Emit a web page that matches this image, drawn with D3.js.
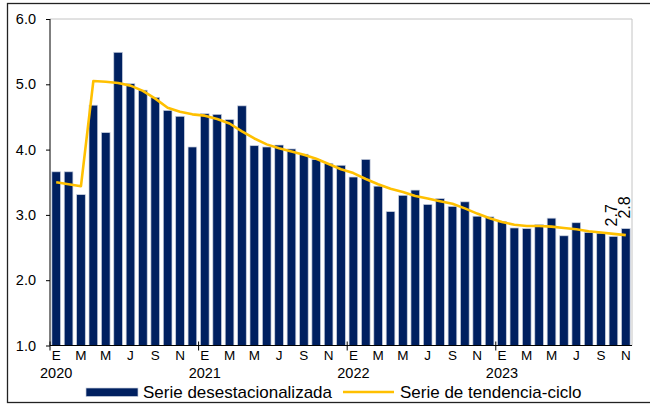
<!DOCTYPE html>
<html>
<head>
<meta charset="utf-8">
<script src="https://cdn.jsdelivr.net/npm/d3@7"></script>
<style>
  body { margin: 0; background: #fff; }
  svg { display: block; font-family: "Liberation Sans", Arial, sans-serif; }
</style>
</head>
<body>
<svg id="chart" width="650" height="405"></svg>
<script>
// ---- data ----
const years = ["2020", "2021", "2022", "2023"];
const monthLetters = ["E", "F", "M", "A", "M", "J", "J", "A", "S", "O", "N", "D"];
const desestacionalizada = [
  3.66, 3.66, 3.31, 4.68, 4.26, 5.49, 5.01, 4.91, 4.80, 4.60, 4.51, 4.04,
  4.55, 4.54, 4.46, 4.67, 4.06, 4.04, 4.07, 4.01, 3.93, 3.85, 3.79, 3.76,
  3.58, 3.85, 3.44, 3.05, 3.30, 3.38, 3.16, 3.25, 3.13, 3.20, 2.98, 2.97,
  2.90, 2.80, 2.79, 2.85, 2.95, 2.68, 2.88, 2.73, 2.72, 2.67, 2.79
];
const tendenciaCiclo = [
  3.50, 3.47, 3.44, 5.05, 5.04, 5.02, 4.98, 4.90, 4.78, 4.64, 4.58, 4.54,
  4.52, 4.47, 4.40, 4.28, 4.17, 4.08, 4.02, 3.97, 3.92, 3.86, 3.78, 3.70,
  3.64, 3.55, 3.47, 3.40, 3.35, 3.29, 3.25, 3.21, 3.17, 3.10, 3.02, 2.95,
  2.89, 2.85, 2.83, 2.83, 2.82, 2.80, 2.78, 2.75, 2.73, 2.71, 2.69
];
const yTicks = [1, 2, 3, 4, 5, 6];
const labelledIdx = [45, 46];
const seriesNames = ["Serie desestacionalizada", "Serie de tendencia-ciclo"];

// categories: one per month
const categories = desestacionalizada.map((d, i) => ({
  i,
  month: monthLetters[i % 12],
  year: years[Math.floor(i / 12)]
}));

// ---- layout ----
const svg = d3.select("#chart");
const pLeft = 50, pRight = 632, pTop = 19, pBottom = 345.5;

const x = d3.scaleBand().domain(categories.map(c => c.i)).range([pLeft, pRight])
  .paddingInner(0.3).paddingOuter(0.15);
const y = d3.scaleLinear().domain([1, 6]).range([pBottom, pTop]);
const step = x.step();
const cx = i => x(i) + x.bandwidth() / 2;
const boundary = i => x(i) - (step - x.bandwidth()) / 2;

// outer frame
svg.append("rect").attr("x", 7.5).attr("y", 3.5).attr("width", 648).attr("height", 399)
  .attr("fill", "none").attr("stroke", "#222").attr("stroke-width", 1.3);

// plot area border (top/right)
svg.append("line").attr("x1", pLeft).attr("x2", pRight).attr("y1", pTop).attr("y2", pTop)
  .attr("stroke", "#c4c4c4").attr("stroke-width", 1);
svg.append("line").attr("x1", pRight).attr("x2", pRight).attr("y1", pTop).attr("y2", pBottom)
  .attr("stroke", "#c4c4c4").attr("stroke-width", 1);

// bars
svg.append("g").selectAll("rect").data(categories).join("rect")
  .attr("x", d => x(d.i))
  .attr("y", d => y(desestacionalizada[d.i]))
  .attr("width", x.bandwidth())
  .attr("height", d => y(1) - y(desestacionalizada[d.i]))
  .attr("fill", "#002060")
  .attr("stroke", "#c9d0de")
  .attr("stroke-width", 0.7);

// trend line
const line = d3.line().x((d, i) => cx(i)).y(d => y(d));
svg.append("path").datum(tendenciaCiclo)
  .attr("d", line)
  .attr("fill", "none")
  .attr("stroke", "#FFC000")
  .attr("stroke-width", 2.6)
  .attr("stroke-linejoin", "round");

// y axis
const yAxis = svg.append("g").attr("transform", `translate(${pLeft},0)`)
  .call(d3.axisLeft(y).tickValues(yTicks).tickFormat(d3.format(".1f")).tickSize(4).tickPadding(10));
yAxis.select(".domain").attr("stroke", "#000").attr("d", `M0,${pTop}V${pBottom}`);
yAxis.selectAll(".tick line").attr("stroke", "#000");
yAxis.selectAll(".tick text").attr("font-size", 14.5).attr("fill", "#000")
  .attr("font-family", "'Liberation Sans', Arial, sans-serif");

// x axis baseline
svg.append("line").attr("x1", pLeft).attr("x2", pRight).attr("y1", pBottom).attr("y2", pBottom)
  .attr("stroke", "#000").attr("stroke-width", 1);
// year ticks (crossing)
const yearStarts = categories.filter(c => c.i % 12 === 0);
svg.append("g").selectAll("line").data(yearStarts).join("line")
  .attr("x1", d => boundary(d.i)).attr("x2", d => boundary(d.i))
  .attr("y1", pBottom - 4).attr("y2", pBottom + 5)
  .attr("stroke", "#000").attr("stroke-width", 1);
svg.append("line").attr("x1", pLeft).attr("x2", pLeft + 3).attr("y1", pBottom).attr("y2", pBottom)
  .attr("stroke", "#000");

// month labels (every second month)
svg.append("g").selectAll("text").data(categories.filter(c => c.i % 2 === 0)).join("text")
  .attr("x", d => cx(d.i)).attr("y", 359.5)
  .attr("text-anchor", "middle").attr("font-size", 13.5).attr("fill", "#000")
  .text(d => d.month);

// year labels
svg.append("g").selectAll("text").data(yearStarts).join("text")
  .attr("x", d => cx(d.i)).attr("y", 377.5)
  .attr("text-anchor", "middle").attr("font-size", 14.5).attr("fill", "#000")
  .text(d => d.year);

// data labels
svg.append("g").selectAll("text").data(labelledIdx).join("text")
  .attr("transform", i => `translate(${cx(i) + 4},${y(desestacionalizada[i]) - 10}) rotate(-90)`)
  .attr("font-size", 16).attr("fill", "#000")
  .text(i => d3.format(".1f")(desestacionalizada[i]));

// legend
const lg = svg.append("g");
lg.append("rect").attr("x", 86).attr("y", 388).attr("width", 52).attr("height", 8.5)
  .attr("fill", "#002060").attr("stroke", "#c9d0de").attr("stroke-width", 0.7);
lg.append("text").attr("x", 143).attr("y", 397.5).attr("font-size", 17).attr("fill", "#000")
  .text(seriesNames[0]);
lg.append("line").attr("x1", 343).attr("x2", 394).attr("y1", 392).attr("y2", 392)
  .attr("stroke", "#FFC000").attr("stroke-width", 2.6);
lg.append("text").attr("x", 400).attr("y", 397.5).attr("font-size", 17).attr("fill", "#000")
  .text(seriesNames[1]);
</script>
</body>
</html>
